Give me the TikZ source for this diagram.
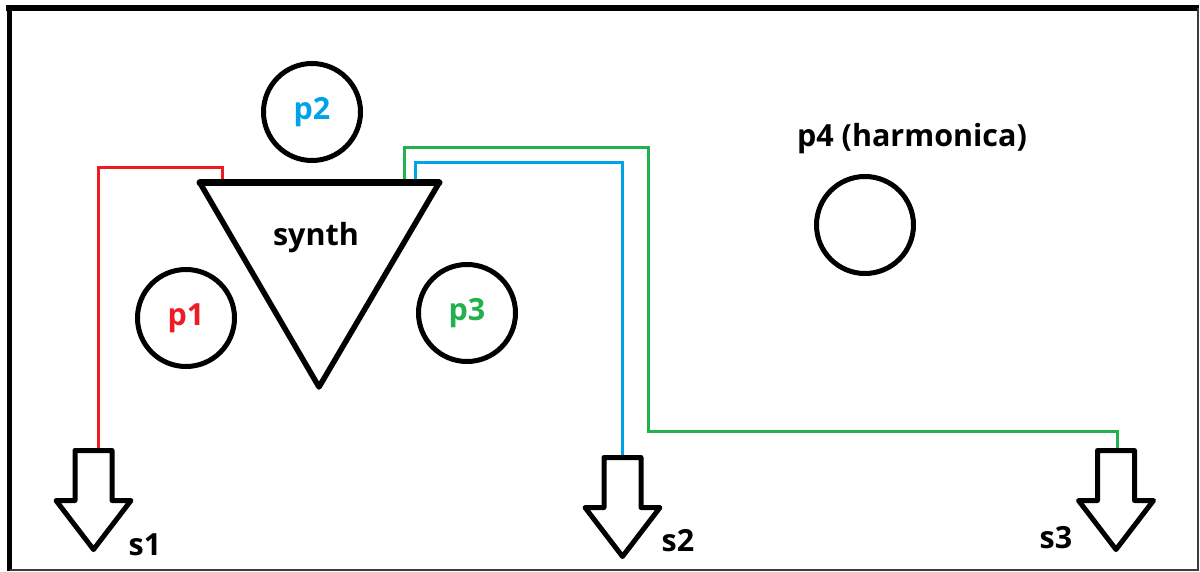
\documentclass[tikz,border=0pt]{standalone}
\usepackage{fontspec}
\setmainfont{Open Sans}
\usetikzlibrary{calc}
\definecolor{pred}{HTML}{ED1C24}
\definecolor{pblue}{HTML}{00A2E8}
\definecolor{pgreen}{HTML}{22B14C}
\definecolor{frame}{HTML}{3C3C3C}

% block arrow pointing down, hung from its top centre
\newcommand{\speakerbox}[1]{%
  \draw[line width=5pt,line join=round] (#1) ++(-18.5,0) -- ++(37,0) -- ++(0,50)
    -- ++(19,0) -- ++(-37.5,49) -- ++(-37.5,-49) -- ++(19,0) -- cycle;}

\begin{document}
\begin{tikzpicture}[x=1pt,y=-1pt,
    lbl/.style={font=\fontsize{30.5}{36}\selectfont\bfseries,inner sep=0pt},
    player/.style={circle,draw,line width=5pt,minimum size=97pt,inner sep=0pt,lbl},
    wire/.style={line width=3pt,line join=miter}]
  \useasboundingbox (0,0) rectangle (1200,572);

  % frame
  \draw[line width=6pt] (6,8) -- (1199,8);
  \draw[line width=5pt] (9.5,5) -- (9.5,571);
  \draw[line width=1.2pt,frame] (1198,8) -- (1198,570) -- (9.5,570);

  % synth corners and outlets
  \coordinate (tl) at (200,183);
  \coordinate (tr) at (439,183);
  \coordinate (tb) at (319,387);
  \coordinate (outred) at (222,183);
  \coordinate (outgreen) at (404,183);
  \coordinate (outblue) at (415,183);

  % speakers
  \coordinate (s1) at (93.5,450.5);
  \coordinate (s2) at (622.5,457.5);
  \coordinate (s3) at (1116,450.5);
  \coordinate (s1in) at (98,452);
  \coordinate (s2in) at (622,459);
  \coordinate (s3in) at (1117,452);

  % cables
  \draw[wire,pred] (outred) -- ++(0,-15) -| (s1in);
  \draw[wire,pblue] (outblue) -- ++(0,-20) -| (s2in);
  \draw[wire,pgreen] (outgreen) -- ++(0,-35) -- ++(244,0) |- (1117,431) -- (s3in);

  % synth
  \draw[line width=5.5pt,line join=round] (tl) -- (tr) -- (tb) -- cycle;
  \draw[line width=7pt,line cap=round] (tl) -- (tr);
  \node[lbl] (synth) at (316,238) {synth};

  \speakerbox{s1}
  \speakerbox{s2}
  \speakerbox{s3}
  \node[lbl,anchor=center] (s1lbl) at (145,545) {s1};
  \node[lbl,anchor=center] (s2lbl) at (678,541) {s2};
  \node[lbl,anchor=center] (s3lbl) at (1056,538) {s3};

  % players
  \node[player,text=pred] (p1) at (186,318) {p1};
  \node[player,text=pblue] (p2) at (312,112) {p2};
  \node[player,text=pgreen] (p3) at (467,313) {p3};
  \node[player] (p4) at (865,225) {};
  \node[lbl] (p4lbl) at (912,139) {p4 (harmonica)};
\end{tikzpicture}
\end{document}
